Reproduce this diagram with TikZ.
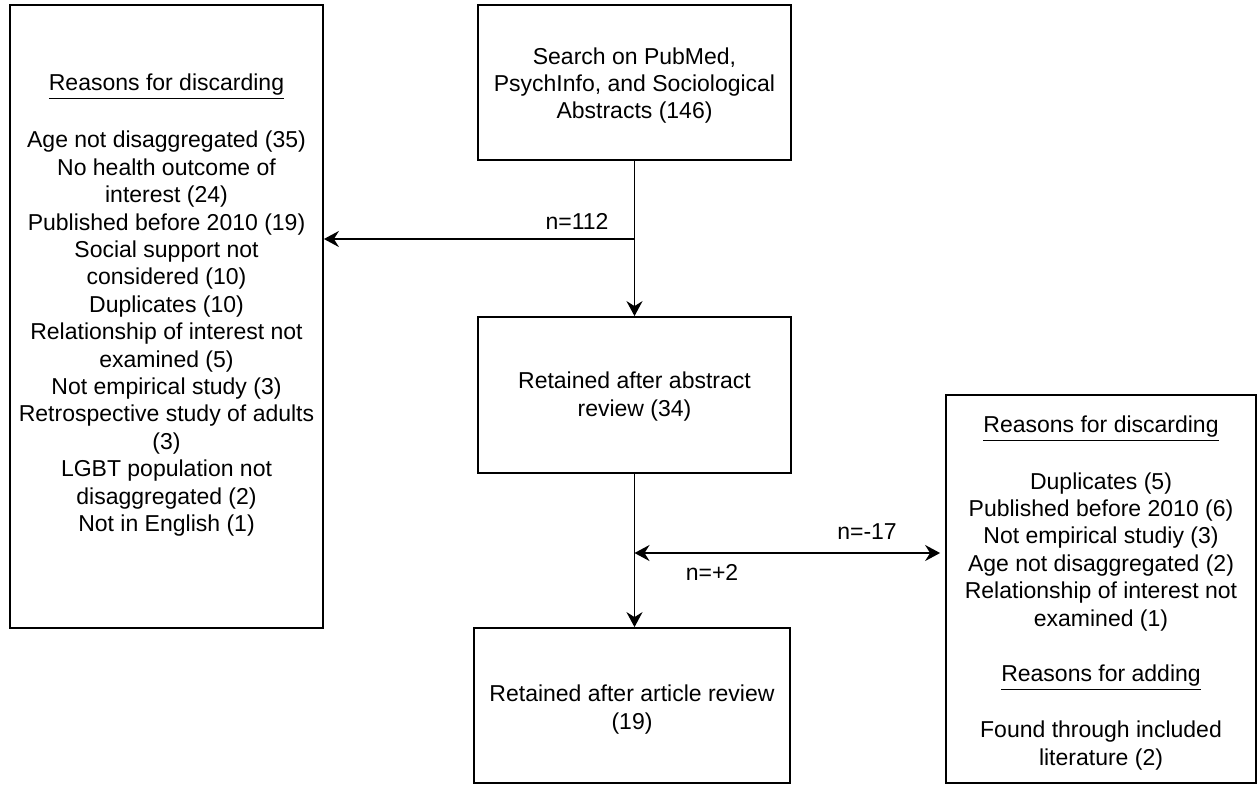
\documentclass[tikz,border=0pt]{standalone}
\usepackage{fontspec}
\setmainfont{Liberation Sans}
\usetikzlibrary{arrows.meta}
\tikzset{
  box/.style={draw=black, line width=0.9pt, fill=white, inner sep=0pt},
  txt/.style={inner sep=0pt, align=center, font=\fontsize{11.5}{13.7}\selectfont},
  tip/.style={Stealth[length=7.5pt,width=8pt,inset=2.5pt]},
  flow/.style={draw=black, line width=0.9pt, -{Stealth[length=7.5pt,width=8pt,inset=2.5pt]}},
  flow2/.style={draw=black, line width=0.9pt, {Stealth[length=7.5pt,width=8pt,inset=2.5pt]}-{Stealth[length=7.5pt,width=8pt,inset=2.5pt]}},
  lbl/.style={inner sep=0pt, font=\fontsize{11.5}{13.7}\selectfont}
}
\begin{document}
\begin{tikzpicture}[x=0.5pt,y=-0.5pt]
\useasboundingbox (0,0) rectangle (1257,784);
% boxes
\node[box, minimum width=156.5pt, minimum height=311.5pt] (left) at (166.5,316.5) {};
\node[box, minimum width=156.5pt, minimum height=77.5pt] (top) at (634.5,82.5) {};
\node[box, minimum width=156.5pt, minimum height=78pt] (abs) at (634.5,395) {};
\node[box, minimum width=158pt, minimum height=77.5pt] (art) at (632,705.5) {};
\node[box, minimum width=155pt, minimum height=194pt] (right) at (1101,589) {};
% texts
\node[txt] (lefttext) at (166.5,305) {\underline{Reasons for discarding}\\[15pt]
Age not disaggregated (35)\\ No health outcome of\\ interest (24)\\
Published before 2010 (19)\\ Social support not\\ considered (10)\\
Duplicates (10)\\ Relationship of interest not\\ examined (5)\\
Not empirical study (3)\\ Retrospective study of adults\\ (3)\\
LGBT population not\\ disaggregated (2)\\ Not in English (1)};
\node[txt] (toptext) at (634.5,85.5)
  {Search on PubMed,\\ PsychInfo, and Sociological\\ Abstracts (146)};
\node[txt] (abstext) at (634.5,396.5)
  {Retained after abstract\\ review (34)};
\node[txt] (arttext) at (632,709.5)
  {Retained after article review\\ (19)};
\node[txt] (righttext) at (1101,593)
  {\underline{Reasons for discarding}\\[14.5pt]
Duplicates (5)\\ Published before 2010 (6)\\ Not empirical studiy (3)\\
Age not disaggregated (2)\\ Relationship of interest not\\ examined (1)\\[14pt]
\underline{Reasons for adding}\\[14.5pt]
Found through included\\ literature (2)};
% connectors
\coordinate (j1) at (634.5,239);
\coordinate (j2) at (634.5,553);
\draw[flow] (top.south) -- (abs.north);
\draw[line width=0.9pt] (top.south) -- (j1);
\draw[flow] (j1) -- (j1 -| left.east);
\draw[flow] (abs.south) -- (abs.south |- art.north);
\draw[flow2, shorten >=2.5pt] (j2) -- (j2 -| right.west);
% labels
\node[lbl] (l112) at (577,221) {n=112};
\node[lbl] (l17) at (867,532) {n=-17};
\node[lbl] (l2) at (712,572) {n=+2};
\end{tikzpicture}
\end{document}
